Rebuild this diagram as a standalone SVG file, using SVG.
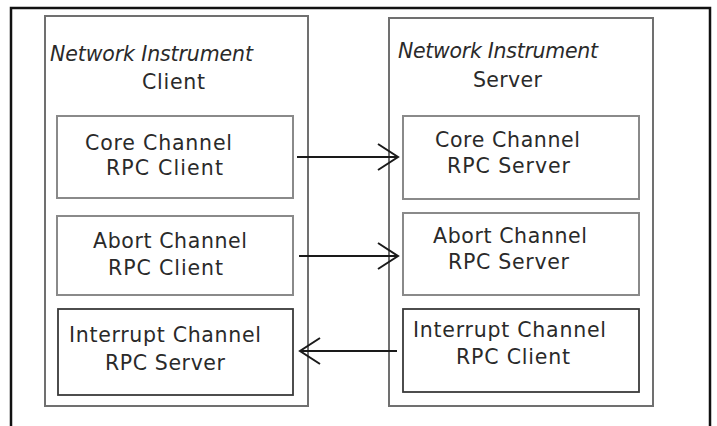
<svg xmlns="http://www.w3.org/2000/svg" width="717" height="426" viewBox="0 0 717 426">
<style>
.frame{fill:none;stroke:#111;stroke-width:2.5}
.cont{fill:#fff;stroke:#707070;stroke-width:2}
.box{fill:#fff;stroke:#8a8a8a;stroke-width:2}
.boxd{fill:#fff;stroke:#3a3a3a;stroke-width:1.8}
text{font-family:"DejaVu Sans","Liberation Sans",sans-serif;font-size:20.5px;fill:#2a2a2a}
.it{font-style:italic}
.conn{stroke:#1a1a1a;stroke-width:2;fill:none}
</style>
<defs>
<marker id="open" viewBox="0 0 24 30" refX="22" refY="15" markerWidth="24" markerHeight="30" markerUnits="userSpaceOnUse" orient="auto">
<path d="M2,2 L22,15 L2,28" fill="none" stroke="#1a1a1a" stroke-width="2"/>
</marker>
</defs>
<rect width="717" height="426" fill="#fff"/>
<path class="frame" d="M11,426 V8 H710 V426"/>
<g id="client">
<rect class="cont" x="45" y="16" width="263" height="390"/>
<text class="it" x="50" y="61" textLength="203" lengthAdjust="spacing">Network Instrument</text>
<text x="142" y="89" textLength="63" lengthAdjust="spacing">Client</text>
</g>
<g id="server">
<rect class="cont" x="389" y="18" width="264" height="388"/>
<text class="it" x="398" y="58" textLength="200" lengthAdjust="spacing">Network Instrument</text>
<text x="473" y="87" textLength="69" lengthAdjust="spacing">Server</text>
</g>
<g id="core-client">
<rect class="box" x="57" y="116" width="236" height="82"/>
<text x="85" y="150" textLength="147" lengthAdjust="spacing">Core Channel</text>
<text x="106" y="175" textLength="117" lengthAdjust="spacing">RPC Client</text>
</g>
<g id="abort-client">
<rect class="box" x="57" y="216" width="236" height="79"/>
<text x="93" y="248" textLength="154" lengthAdjust="spacing">Abort Channel</text>
<text x="108" y="275" textLength="115" lengthAdjust="spacing">RPC Client</text>
</g>
<g id="interrupt-server">
<rect class="boxd" x="58" y="309" width="235" height="86"/>
<text x="69" y="342" textLength="192" lengthAdjust="spacing">Interrupt Channel</text>
<text x="105" y="370" textLength="120" lengthAdjust="spacing">RPC Server</text>
</g>
<g id="core-server">
<rect class="box" x="403" y="116" width="236" height="83"/>
<text x="435" y="147" textLength="145" lengthAdjust="spacing">Core Channel</text>
<text x="447" y="173" textLength="123" lengthAdjust="spacing">RPC Server</text>
</g>
<g id="abort-server">
<rect class="box" x="403" y="213" width="236" height="82"/>
<text x="433" y="243" textLength="154" lengthAdjust="spacing">Abort Channel</text>
<text x="448" y="269" textLength="121" lengthAdjust="spacing">RPC Server</text>
</g>
<g id="interrupt-client">
<rect class="boxd" x="403" y="309" width="236" height="83"/>
<text x="413" y="337" textLength="193" lengthAdjust="spacing">Interrupt Channel</text>
<text x="456" y="364" textLength="114" lengthAdjust="spacing">RPC Client</text>
</g>
<g id="connectors">
<line class="conn" x1="297" y1="157" x2="398" y2="157" marker-end="url(#open)"/>
<line class="conn" x1="299" y1="256" x2="398" y2="256" marker-end="url(#open)"/>
<line class="conn" x1="397" y1="351" x2="300" y2="351" marker-end="url(#open)"/>
</g>
</svg>
